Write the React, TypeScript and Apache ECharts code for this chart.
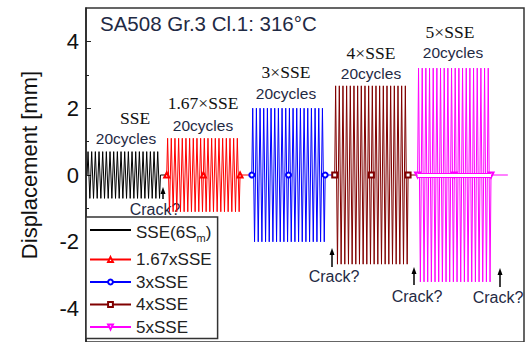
import React, { useEffect, useRef } from "react";
import * as echarts from "echarts";

// ---- data (x in loading cycles, y in mm) ----
const seriesNames = ["SSE(6Sm)", "1.67xSSE", "3xSSE", "4xSSE", "5xSSE"];
const blockStarts = [0.3, 22.0, 45.2, 67.8, 90.4];
const cyclesPerBlock = [20, 20, 20, 20, 20];
const amplitudes = [0.7, 1.1, 2.0, 2.67, 3.2];
const tailEnds = [22.0, 45.2, 67.8, 90.4, 115.0];
// one loading cycle sampled at quarter cycles (normalised)
const cycleShape = [0, 1, 0, -1];
const yMajorTicks = [-4, -2, 0, 2, 4];
const yMinorTicks = [-3, -1, 1, 3];
const blockLabels = ["SSE", "1.67×SSE", "3×SSE", "4×SSE", "5×SSE"];
const cycleLabel = "20cycles";
const crackLabel = "Crack?";
const titleText = "SA508 Gr.3 Cl.1: 316°C";

// ---- styles ----
const seriesColors = ["#000000", "#ff0000", "#0000ff", "#800000", "#ff00ff"];
const seriesSymbols = ["circle", "emptyTriangle", "emptyCircle", "emptyRect", "emptyTriangle"];
const symbolRotations = [0, 0, 0, 0, 180];
const SANS = "'Liberation Sans', Arial, sans-serif";
const SERIF = "'Liberation Serif', 'Times New Roman', serif";
const TXT = "#1f2a44";

// layout (pixels) of annotations
const blockLabelPos = [
  [135, 118], [203, 103], [286, 72], [371, 53], [450, 32],
];
const cycleLabelPos = [
  [126, 138], [203, 125], [286, 93], [371, 73], [453, 52],
];
const crackTextPos = [
  [155, 209], [334, 276], [417, 296], [498, 297],
];
const crackArrows = [
  [163, 199, 187], [332, 267, 248], [414, 285, 267], [500, 287, 268],
];

function buildData(i: number) {
  const s = blockStarts[i];
  const n = cyclesPerBlock[i];
  const A = amplitudes[i];
  const step = 1 / cycleShape.length;
  const data: any[] = [];
  const withMarkers = i > 0;
  for (let c = 0; c < n; c++) {
    for (let k = 0; k < cycleShape.length; k++) {
      const x = s + c + k * step;
      const y = cycleShape[k] * A;
      const isMarker = withMarkers && k === 0 && (c === 0 || c === n / 2);
      data.push(isMarker ? { value: [x, 0] } : { value: [x, y], symbol: "none" });
    }
  }
  data.push(withMarkers ? { value: [s + n, 0] } : { value: [s + n, 0], symbol: "none" });
  data.push({ value: [tailEnds[i], 0], symbol: "none" });
  return data;
}

export default function App() {
  const ref = useRef<HTMLDivElement>(null);
  useEffect(() => {
    if (!ref.current) return;
    const chart = echarts.init(ref.current, null, { renderer: "svg" });

    const series: any[] = seriesNames.map((name, i) => {
      const s: any = {
        name,
        type: "line",
        xAxisIndex: 0,
        yAxisIndex: 0,
        data: buildData(i),
        symbol: seriesSymbols[i],
        symbolSize: 5,
        symbolRotate: symbolRotations[i],
        showSymbol: true,
        color: seriesColors[i],
        lineStyle: { color: seriesColors[i], width: 1 },
        itemStyle: { color: seriesColors[i], borderWidth: 1 },
        emphasis: { disabled: true },
        silent: true,
      };
      if (i === 4) {
        const st = blockStarts[i];
        const en = blockStarts[i] + cyclesPerBlock[i];
        s.markLine = {
          silent: true,
          symbol: ["none", "none"],
          label: { show: false },
          data: [
            [{ coord: [st, 0], lineStyle: { color: seriesColors[i], width: 5, type: "solid" } }, { coord: [en, 0] }],
            [{ coord: [st, 0], lineStyle: { color: "#ffffff", width: 3, type: "solid" } }, { coord: [en, 0] }],
          ],
        };
      }
      return s;
    });

    const graphics: any[] = [];
    graphics.push({
      type: "text", left: 100, top: 13,
      style: { text: titleText, font: `20.5px ${SANS}`, fill: TXT },
    });
    blockLabels.forEach((t, i) => {
      graphics.push({
        type: "text", x: blockLabelPos[i][0], y: blockLabelPos[i][1],
        style: { text: t, font: `17.5px ${SERIF}`, fill: "#111", align: "center", verticalAlign: "middle" },
      });
      graphics.push({
        type: "text", x: cycleLabelPos[i][0], y: cycleLabelPos[i][1],
        style: { text: cycleLabel, font: `15.5px ${SANS}`, fill: TXT, align: "center", verticalAlign: "middle" },
      });
    });
    crackTextPos.forEach((p) => {
      graphics.push({
        type: "text", x: p[0], y: p[1],
        style: { text: crackLabel, font: `16px ${SANS}`, fill: TXT, align: "center", verticalAlign: "middle" },
      });
    });
    crackArrows.forEach(([x, y1, y2]) => {
      graphics.push({
        type: "line", shape: { x1: x, y1, x2: x, y2: y2 + 5 },
        style: { stroke: "#000", lineWidth: 1.5 },
      });
      graphics.push({
        type: "polygon", shape: { points: [[x, y2], [x - 2.5, y2 + 7], [x + 2.5, y2 + 7]] },
        style: { fill: "#000" },
      });
    });

    const legendData = seriesNames.map((name, i) =>
      i === 0 ? { name, itemStyle: { opacity: 0 } } : { name }
    );

    chart.setOption({
      animation: false,
      grid: {
        left: 86, top: 8, right: 3, bottom: 0,
        show: true, borderColor: "#333", borderWidth: 1.5, backgroundColor: "transparent",
      },
      xAxis: {
        type: "value", min: 0, max: 119.4, show: false,
      },
      yAxis: [
        {
          type: "value", min: -5, max: 5,
          name: "Displacement [mm]", nameLocation: "middle", nameRotate: 90, nameGap: 46,
          nameTextStyle: { fontSize: 22, fontFamily: SANS, color: "#111", padding: [0, 0, 0, 20] },
          axisLine: { show: true, lineStyle: { color: "#222", width: 1.5 } },
          axisTick: { show: true, inside: true, length: 5, customValues: yMajorTicks, lineStyle: { color: "#222" } },
          axisLabel: { show: true, customValues: yMajorTicks, fontSize: 22, fontFamily: SANS, color: "#111", margin: 7 },
          splitLine: { show: false },
        },
        {
          type: "value", min: -5, max: 5, position: "left", offset: 0,
          axisLine: { show: false },
          axisTick: { show: true, inside: true, length: 3, customValues: yMinorTicks, lineStyle: { color: "#222" } },
          axisLabel: { show: false },
          splitLine: { show: false },
        },
      ],
      legend: {
        orient: "vertical", left: 86, top: 217,
        data: legendData,
        backgroundColor: "#fff", borderColor: "#333", borderWidth: 1.5, borderRadius: 0,
        padding: [4.5, 6, 3, 3],
        itemWidth: 41, itemHeight: 6, itemGap: 5.5,
        selectedMode: false,
        formatter: (name: string) =>
          name === "SSE(6Sm)" ? "{n|SSE(6S}{sub|m}{n|)}" : name,
        textStyle: {
          fontSize: 17, fontFamily: SANS, color: "#222",
          rich: {
            n: { fontSize: 17, fontFamily: SANS, color: "#222", verticalAlign: "top", lineHeight: 17, padding: [2, 0, 0, 0] },
            sub: { fontSize: 11, fontFamily: SANS, color: "#222", verticalAlign: "top", lineHeight: 11, padding: [11, 0, 2, 0] },
          },
        },
      },
      series,
      graphic: graphics,
    });
    return () => chart.dispose();
  }, []);
  return (
    <div
      ref={ref}
      style={{ position: "fixed", left: 0, top: 0, width: 527, height: 342, background: "#fff" }}
    />
  );
}
